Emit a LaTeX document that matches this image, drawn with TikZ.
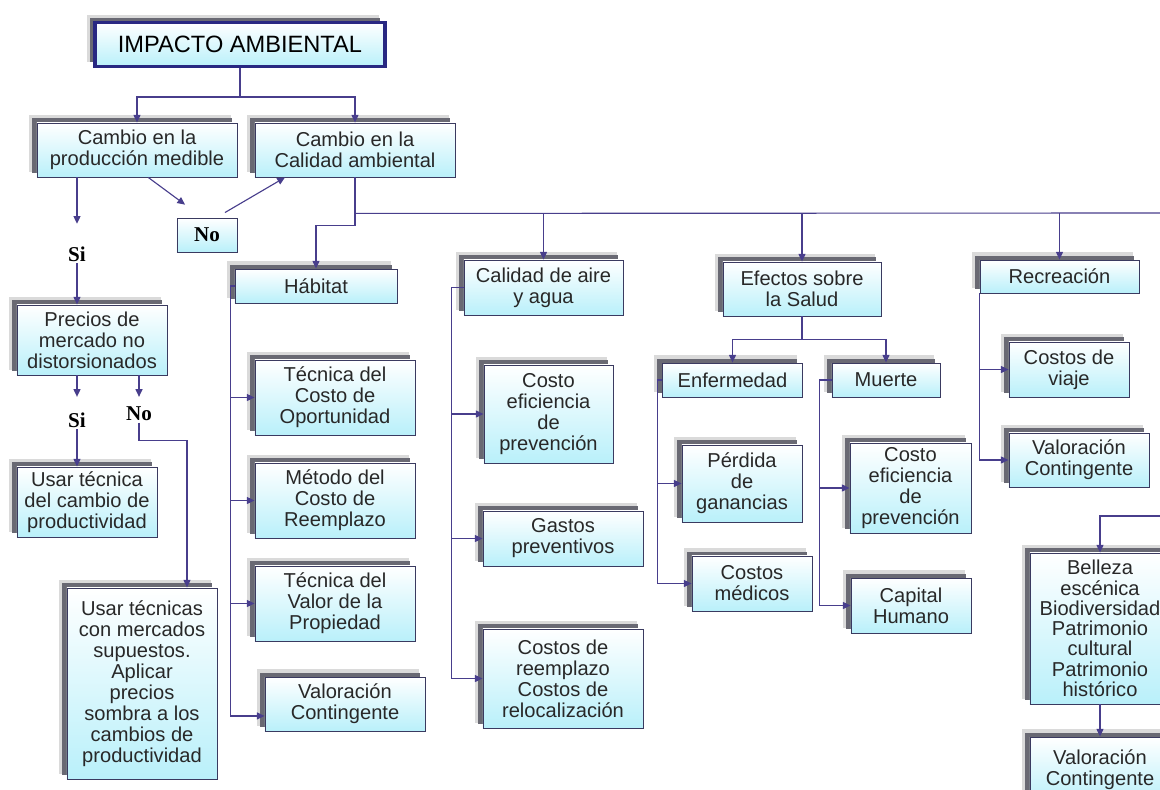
\documentclass[tikz,border=0pt]{standalone}
\usepackage{fontspec}
\setmainfont{Liberation Sans}
\newfontfamily\serifb{Liberation Serif}
\usepackage{tikz}
\usetikzlibrary{arrows.meta, shadows}

\definecolor{borde}{RGB}{58,58,96}
\definecolor{bordetit}{RGB}{40,40,130}
\definecolor{lineacol}{RGB}{72,62,140}
\definecolor{celeste}{RGB}{185,240,250}
\definecolor{sombraosc}{RGB}{105,105,115}
\definecolor{sombracla}{RGB}{218,218,218}
\definecolor{texto}{RGB}{40,40,40}

\tikzset{
  sombra/.style={
    general shadow={fill=sombracla, draw=sombracla, line width=2pt, shadow xshift=-5pt, shadow yshift=4.5pt},
    general shadow={fill=sombraosc, shadow xshift=-3.8pt, shadow yshift=3.2pt}},
  caja/.style={draw=borde, line width=0.6pt, top color=white, bottom color=celeste,
    text=texto, font=\fontsize{14.3pt}{15pt}\selectfont, align=center, inner sep=1pt},
  cajas/.style={caja, sombra},
  cajatit/.style={cajas, draw=bordetit, line width=2.2pt, text=black, font=\fontsize{16.8pt}{18pt}\selectfont},
  tam/.style 2 args={minimum width=#1cm, minimum height=#2cm},
  etiq/.style={font=\serifb\bfseries\fontsize{15pt}{16pt}\selectfont, text=black, inner sep=1pt},
  linea/.style={draw=lineacol, line width=0.8pt},
  flecha/.style={linea, -{Triangle[length=5.5pt, width=5pt]}}
}

\begin{document}
\begin{tikzpicture}[x=0.025cm, y=-0.025cm]
    \useasboundingbox (0,0) rectangle (1160,790);
    \clip (0,0) rectangle (1160,790);

    % raiz
    \node[cajatit, tam={7.25}{1.1}] (titulo) at (240,44.5) {IMPACTO AMBIENTAL};
    \node[cajas, tam={5}{1.35}] (prod) at (137,150) {Cambio en la\\producción medible};
    \node[cajas, tam={5}{1.35}] (calidad) at (355,150) {Cambio en la\\Calidad ambiental};
    \node[caja, etiq, tam={1.5}{0.85}] (no1) at (207,235) {No};

    % columna izquierda
    \node[etiq] (si1) at (77,254) {Si};
    \node[cajas, tam={3.75}{1.75}] (precios) at (92,340) {Precios de\\mercado no\\distorsionados};
    \node[etiq] (si2) at (77,420) {Si};
    \node[etiq] (no2) at (139,414) {No};
    \node[cajas, tam={3.5}{1.75}] (usar1) at (87,502) {Usar técnica\\del cambio de\\productividad};
    \node[cajas, tam={3.75}{4.775}] (usar2) at (142,683.5) {Usar técnicas\\con mercados\\supuestos.\\Aplicar\\precios\\sombra a los\\cambios de\\productividad};

    % habitat
    \node[cajas, tam={4.05}{0.85}] (habitat) at (316,286) {Hábitat};
    \node[cajas, tam={4}{1.875}] (tco) at (335,397.5) {Técnica del\\Costo de\\Oportunidad};
    \node[cajas, tam={4}{1.875}] (mcr) at (335,500.5) {Método del\\Costo de\\Reemplazo};
    \node[cajas, tam={4}{1.875}] (tvp) at (335,603.5) {Técnica del\\Valor de la\\Propiedad};
    \node[cajas, tam={4}{1.35}] (vc1) at (345,704) {Valoración\\Contingente};

    % aire y agua
    \node[cajas, tam={3.975}{1.375}] (aire) at (543.5,287.5) {Calidad de aire\\y agua};
    \node[cajas, tam={3.225}{2.45}] (cep1) at (548.5,414) {Costo\\eficiencia\\de\\prevención};
    \node[cajas, tam={4}{1.375}] (gastos) at (563,538.5) {Gastos\\preventivos};
    \node[cajas, tam={4}{2.475}] (reemp) at (563,678.5) {Costos de\\reemplazo\\Costos de\\relocalización};

    % salud
    \node[cajas, tam={3.95}{1.35}] (salud) at (802,289) {Efectos sobre\\la Salud};
    \node[cajas, tam={3.5}{0.85}] (enf) at (732.5,380) {Enfermedad};
    \node[cajas, tam={2.7}{0.85}] (muerte) at (886,380) {Muerte};
    \node[cajas, tam={3}{1.925}] (perdida) at (742,483.5) {Pérdida\\de\\ganancias};
    \node[cajas, tam={3}{1.375}] (medicos) at (752,583.5) {Costos\\médicos};
    \node[cajas, tam={3.025}{2.25}] (cep2) at (910.5,488) {Costo\\eficiencia\\de\\prevención};
    \node[cajas, tam={3}{1.375}] (capital) at (911,605.5) {Capital\\Humano};

    % recreacion
    \node[cajas, tam={3.975}{0.825}] (recre) at (1059.5,276.5) {Recreación};
    \node[cajas, tam={3}{1.375}] (viaje) at (1069,369.5) {Costos de\\viaje};
    \node[cajas, tam={3.5}{1.35}] (vc2) at (1079,460) {Valoración\\Contingente};
    \node[cajas, tam={3.5}{3.775}, font=\fontsize{14.3pt}{14.4pt}\selectfont] (belleza) at (1100,628.5) {Belleza\\escénica\\Biodiversidad\\Patrimonio\\cultural\\Patrimonio\\histórico};
    \node[cajas, tam={3.5}{1.65}] (vc3) at (1100,770) {Valoración\\Contingente};

    \coordinate (sigue1) at (1160,213);
    \coordinate (sigue2) at (1160,516);

    % conectores raiz
    \draw[linea] (titulo.south) -- ++(0,29) coordinate (t0);
    \draw[flecha] (t0) -| (prod.north);
    \draw[flecha] (t0) -| (calidad.north);
    \draw[flecha] (si1 |- prod.south) -- ([yshift=15pt]si1.north);
    \draw[flecha] ([xshift=8pt]prod.south) -- ([xshift=-15.6pt, yshift=9.2pt]no1.north);
    \draw[flecha] ([xshift=12.8pt, yshift=3.6pt]no1.north) -- ([xshift=-49.8pt]calidad.south);

    % conectores izquierda
    \draw[flecha] (si1.south) -- (si1 |- precios.north);
    \draw[flecha] (si2 |- precios.south) -- ([yshift=10pt]si2.north);
    \draw[flecha] (no2 |- precios.south) -- ([yshift=6pt]no2.north);
    \draw[flecha] (si2.south) -- (si2 |- usar1.north);
    \draw[flecha] (no2.south) -- ++(0,18) -| ([xshift=32pt]usar2.north);

    % tronco
    \draw[flecha] (calidad.south) -- ++(0,48) -| (habitat.north);
    \draw[linea] (calidad.south) -- ++(0,36) coordinate (tronco) -- (sigue1);
    \draw[flecha, xshift=-7pt] (tronco -| aire.north) -- (aire.north);
    \draw[flecha, xshift=-7pt] (tronco -| salud.north) -- (salud.north);
    \draw[flecha] (tronco -| recre.north) -- (recre.north);

    % ramas
    \draw[flecha] (habitat.west) -- ++(-4,0) coordinate (hab) |- ([yshift=-8.5pt]vc1.west);
    \foreach \n in {tco, mcr, tvp}
        \draw[flecha] (hab |- \n.west) -- (\n.west);
    \draw[flecha] (aire.west) -- ++(-12,0) coordinate (ai) |- (reemp.west);
    \foreach \n in {cep1, gastos}
        \draw[flecha] (ai |- \n.west) -- (\n.west);
    \draw[flecha] (salud.south) -- ++(0,23) -| (enf.north);
    \draw[flecha] (salud.south) -- ++(0,23) -| (muerte.north);
    \draw[flecha] (enf.west) -- ++(-5,0) coordinate (en) |- (medicos.west);
    \draw[flecha] (en |- perdida.west) -- (perdida.west);
    \draw[flecha] (muerte.west) -- ++(-12,0) coordinate (mu) |- (capital.west);
    \draw[flecha] (mu |- cep2.west) -- (cep2.west);
    \draw[flecha] (recre.south west) |- (vc2.west);
    \draw[flecha] (recre.south west |- viaje.west) -- (viaje.west);
    \draw[flecha] (sigue2) -| (belleza.north);
    \draw[flecha] (belleza.south) -- (vc3.north);
\end{tikzpicture}
\end{document}
